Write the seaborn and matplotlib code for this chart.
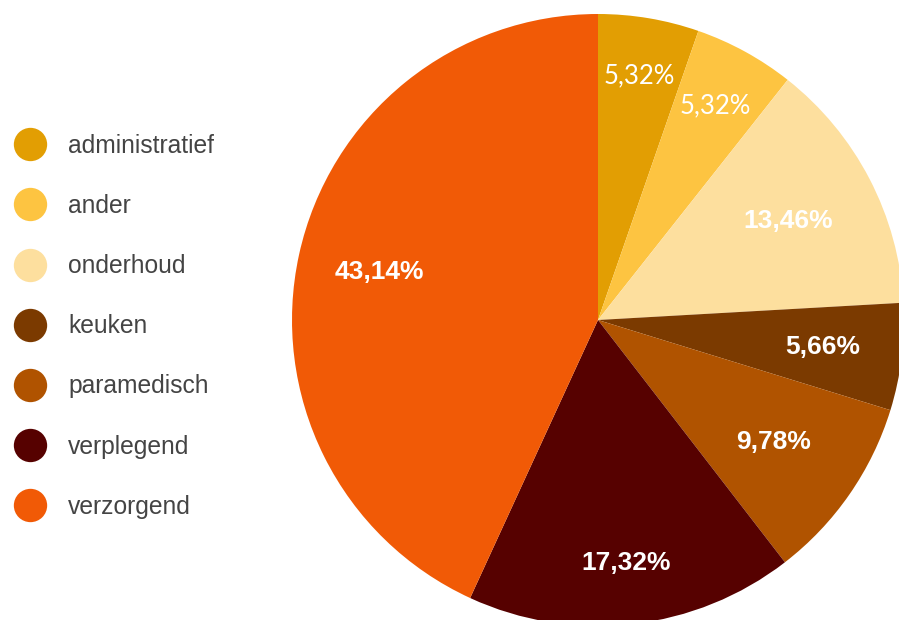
import numpy as np
import matplotlib
matplotlib.use('Agg')
import matplotlib.pyplot as plt
from matplotlib.lines import Line2D
import seaborn as sns

# data
categories = ["administratief", "ander", "onderhoud", "keuken",
              "paramedisch", "verplegend", "verzorgend"]
shares = [5.32, 5.32, 13.46, 5.66, 9.78, 17.32, 43.14]
colors = ["#E29E03", "#FDC441", "#FDDF9E", "#7B3A00",
          "#B05300", "#560100", "#F15A06"]
pct_labels = ["5,32%", "5,32%", "13,46%", "5,66%", "9,78%", "17,32%", "43,14%"]

# label distance from centre, per wedge
label_radius = [0.81, 0.80, 0.70, 0.74, 0.70, 0.80, 0.73]

sns.set_theme(style="white")
plt.rcParams['font.family'] = ['Liberation Sans', 'DejaVu Sans']

fig = plt.figure(figsize=(8.99, 6.2), dpi=100)
fig.patch.set_facecolor("white")

# pie centre at (598, 320) px, radius 306 px -> runs past the right/bottom edge
cx, cy, r = 598, 320, 306
W, H = 899, 620
ax = fig.add_axes([(cx - r) / W, (H - cy - r) / H, 2 * r / W, 2 * r / H])
wedges, _ = ax.pie(shares, colors=colors, startangle=90, counterclock=False,
                   radius=1, wedgeprops=dict(linewidth=0))
ax.set_xlim(-1, 1)
ax.set_ylim(-1, 1)
ax.set_aspect("auto")
ax.axis("off")
for w in wedges:
    w.set_clip_on(False)

for i, (w, lab) in enumerate(zip(wedges, pct_labels)):
    ang = np.deg2rad((w.theta1 + w.theta2) / 2)
    x, y = label_radius[i] * np.cos(ang), label_radius[i] * np.sin(ang)
    if i < 2:
        ax.text(x, y, lab, ha="center", va="center", color="white",
                fontsize=18.5, family=["Lato", "DejaVu Sans"])
    else:
        ax.text(x, y, lab, ha="center", va="center", color="white",
                fontsize=19, fontweight="bold")

handles = [Line2D([], [], marker="o", linestyle="", markersize=24,
                  markerfacecolor=c, markeredgecolor="none") for c in colors]
leg = fig.legend(handles, categories, loc="upper left",
                 bbox_to_anchor=(0, 1 - 124 / H), frameon=False,
                 fontsize=17.7, labelspacing=1.47, handletextpad=0.77,
                 handlelength=1.6, borderaxespad=0)
for t in leg.get_texts():
    t.set_color("#444444")

fig.savefig("out.png", dpi=100, facecolor="white")
